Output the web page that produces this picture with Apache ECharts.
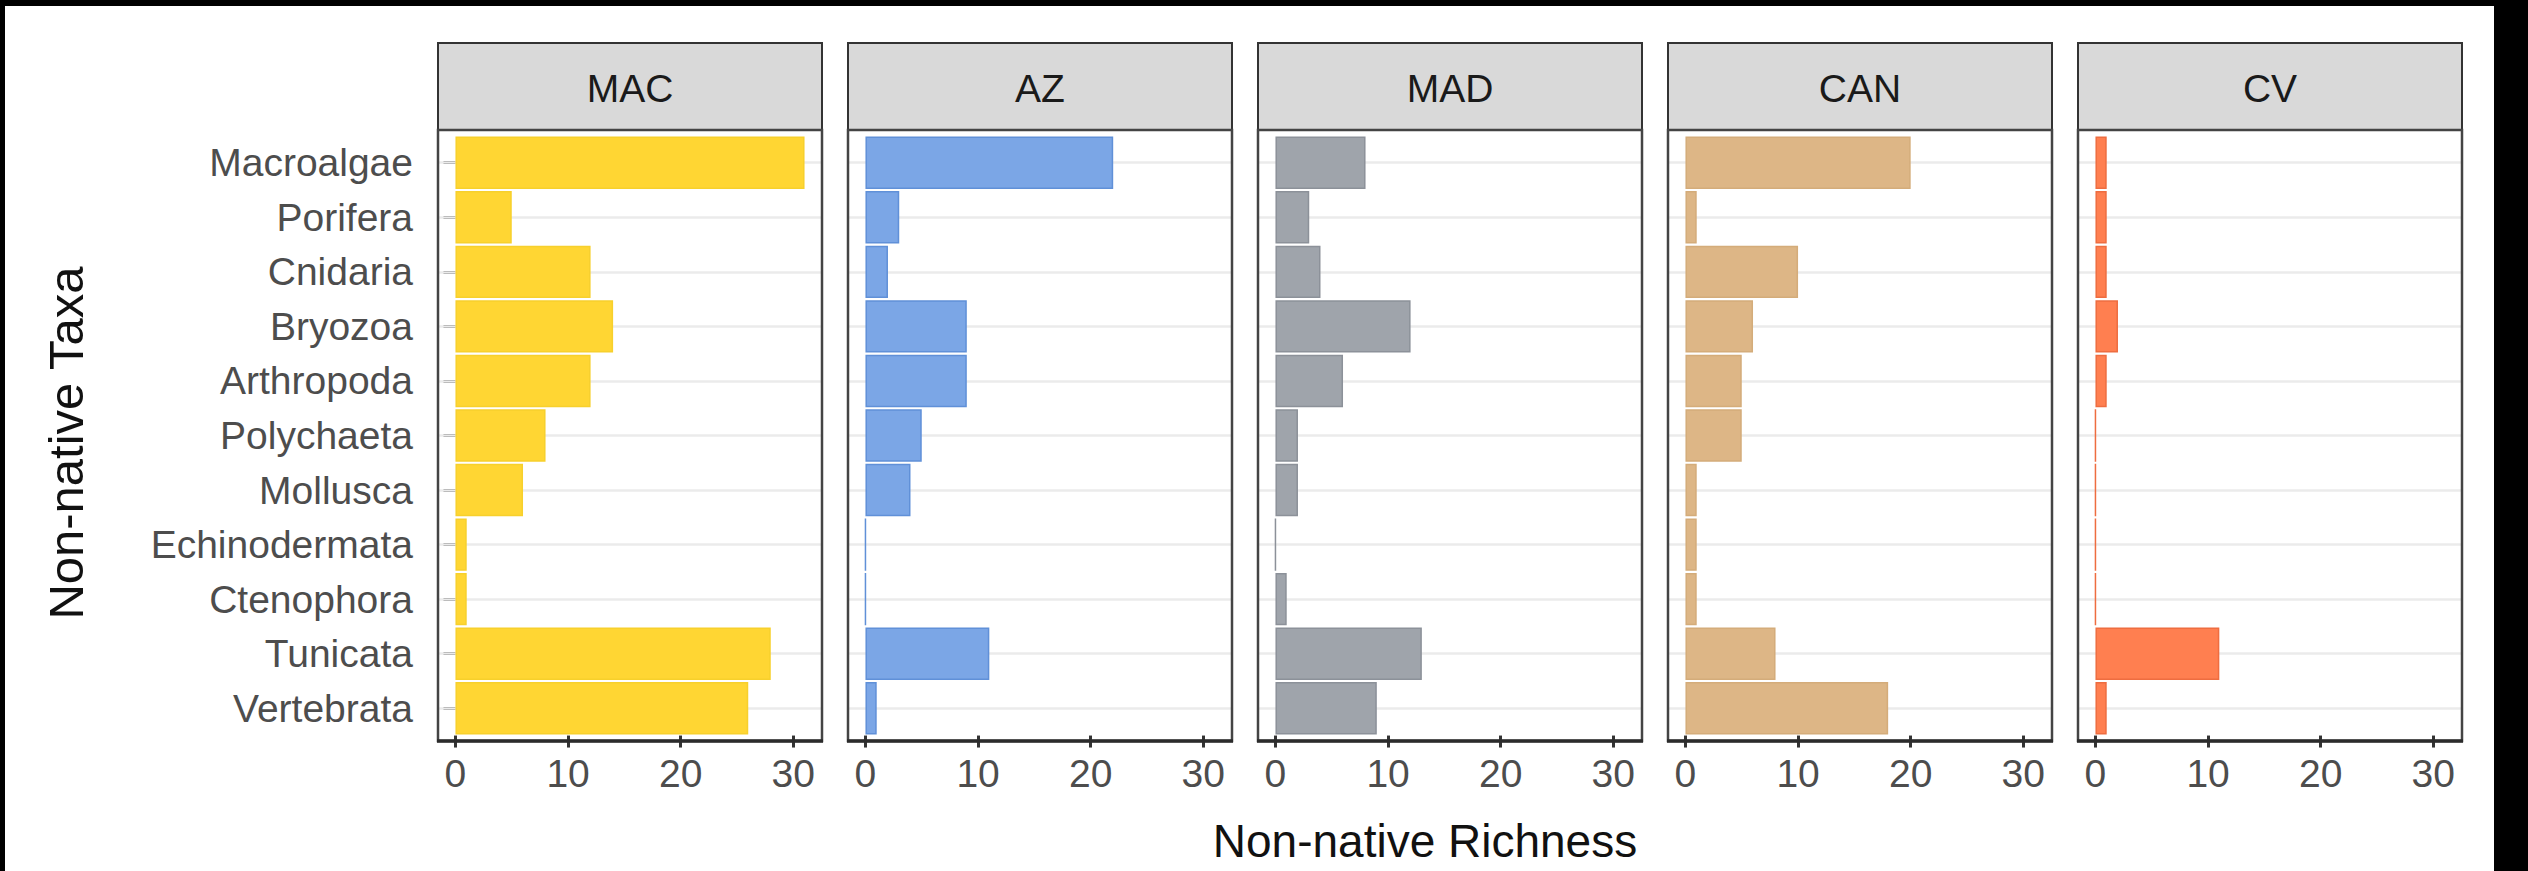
<!DOCTYPE html>
<html><head><meta charset="utf-8">
<script src="https://cdn.jsdelivr.net/npm/echarts@6/dist/echarts.min.js"></script>
<style>html,body{margin:0;padding:0;background:#fff}#c{width:2528px;height:871px}</style>
</head><body><div id="c"></div>
<script>
// ---- data ----
const categories = ['Macroalgae','Porifera','Cnidaria','Bryozoa','Arthropoda','Polychaeta','Mollusca','Echinodermata','Ctenophora','Tunicata','Vertebrata'];
const regions = ['MAC','AZ','MAD','CAN','CV'];
const macValues = [31,5,12,14,12,8,6,1,1,28,26];
const azValues  = [22,3,2,9,9,5,4,0,0,11,1];
const madValues = [8,3,4,12,6,2,2,0,1,13,9];
const canValues = [20,1,10,6,5,5,1,1,1,8,18];
const cvValues  = [1,1,1,2,1,0,0,0,0,11,1];
const xTicks = [0,10,20,30];
const xTitle = 'Non-native Richness';
const yTitle = 'Non-native Taxa';

// ---- style / layout ----
const seriesValues = [macValues, azValues, madValues, canValues, cvValues];
const fills   = ['#FFD633','#7BA6E6','#9FA4AB','#DDB686','#FF7F50'];
const borders = ['#F7D02C','#6090D8','#8C9199','#D4AC7A','#EE6D40'];
const FONT = "'Liberation Sans', Arial, sans-serif";
const panelLeft0 = 438, pitch = 410, panelW = 384;
const plotTop = 130, plotBottom = 741;
const band = (plotBottom - plotTop) / 11.2;
const gridTop = plotTop + 0.1 * band;
const gridH = 11 * band;
const stripTop = 43;

const grids = [], xAxes = [], yAxes = [], series = [], graphics = [];
regions.forEach((r, i) => {
  const left = panelLeft0 + pitch * i;
  grids.push({ left: left, top: gridTop, width: panelW, height: gridH, outerBoundsMode: 'none', containLabel: false });
  xAxes.push({
    gridIndex: i, type: 'value', min: -1.55, max: 32.55,
    axisLine: { show: false },
    splitLine: { show: false },
    axisTick: { show: true, length: 12, customValues: xTicks, lineStyle: { color: '#333', width: 3 } },
    axisLabel: { customValues: xTicks, fontSize: 39, color: '#4D4D4D', margin: 18, fontFamily: FONT }
  });
  yAxes.push({
    gridIndex: i, type: 'category', data: categories, inverse: true,
    axisLine: { show: false },
    splitLine: { show: false },
    axisTick: { show: i === 0, alignWithLabel: true, length: 12, lineStyle: { color: '#333', width: 3 } },
    axisLabel: { show: i === 0, fontSize: 39, color: '#4D4D4D', margin: 25, fontFamily: FONT }
  });
  series.push({
    type: 'line', xAxisIndex: i, yAxisIndex: i, data: [], z: 1, silent: true,
    markLine: {
      z: 1, silent: true, symbol: ['none','none'], label: { show: false },
      lineStyle: { color: '#EBEBEB', width: 2.5, type: 'solid' },
      emphasis: { disabled: true },
      data: categories.map(c => ({ yAxis: c }))
    }
  });
  series.push({
    type: 'bar', name: r, xAxisIndex: i, yAxisIndex: i, data: seriesValues[i],
    barWidth: '96%', z: 3, silent: true,
    itemStyle: { color: fills[i], borderColor: borders[i], borderWidth: 1.5 }
  });
  // strip
  graphics.push({ type: 'rect', z: 50, shape: { x: left, y: stripTop, width: panelW, height: plotTop - stripTop },
    style: { fill: '#D9D9D9', stroke: '#333', lineWidth: 2 } });
  graphics.push({ type: 'text', z: 51, style: { text: r, x: left + panelW / 2, y: 88, textAlign: 'center', textVerticalAlign: 'middle',
    fontSize: 39, fontFamily: FONT, fill: '#1A1A1A' } });
  // panel border
  graphics.push({ type: 'rect', z: 100, shape: { x: left, y: plotTop, width: panelW, height: plotBottom - plotTop },
    style: { fill: 'none', stroke: '#444', lineWidth: 2.5 } });
  graphics.push({ type: 'line', z: 101, shape: { x1: left - 1, y1: plotBottom, x2: left + panelW + 1, y2: plotBottom },
    style: { stroke: '#2B2B2B', lineWidth: 3.5 } });
});
// axis titles
graphics.push({ type: 'text', z: 60, style: { text: xTitle, x: 1425, y: 841, textAlign: 'center', textVerticalAlign: 'middle',
  fontSize: 46, fontFamily: FONT, fill: '#111' } });
graphics.push({ type: 'text', z: 60, x: 66, y: 443, rotation: Math.PI / 2,
  style: { text: yTitle, x: 0, y: 0, textAlign: 'center', textVerticalAlign: 'middle', fontSize: 49, fontFamily: FONT, fill: '#111' } });
// frame bands of the screenshot
graphics.push({ type: 'rect', z: 200, shape: { x: 0, y: 0, width: 2528, height: 6 }, style: { fill: '#000' } });
graphics.push({ type: 'rect', z: 200, shape: { x: 0, y: 0, width: 5, height: 871 }, style: { fill: '#000' } });
graphics.push({ type: 'rect', z: 200, shape: { x: 2494, y: 0, width: 34, height: 871 }, style: { fill: '#000' } });

const chart = echarts.init(document.getElementById('c'), null, { renderer: 'svg' });
chart.setOption({
  backgroundColor: '#fff',
  animation: false,
  grid: grids, xAxis: xAxes, yAxis: yAxes, series: series, graphic: graphics
});
</script></body></html>
